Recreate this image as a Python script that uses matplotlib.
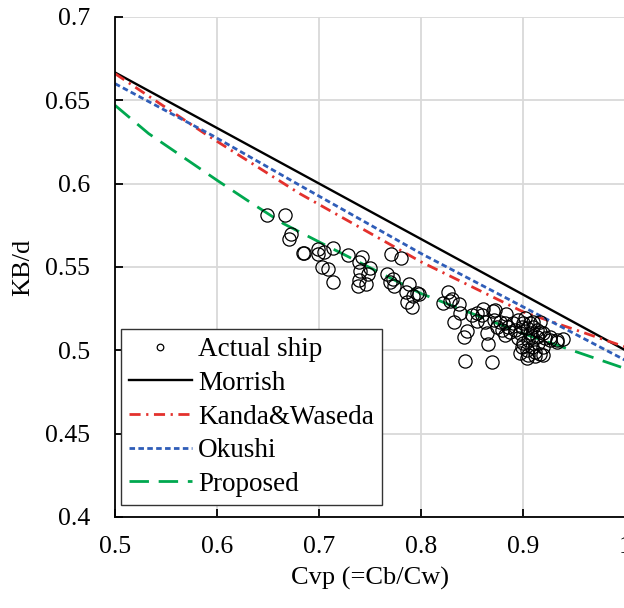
import matplotlib.pyplot as plt

plt.rcParams['font.family'] = ['Liberation Serif', 'DejaVu Serif']

# actual ship data (Cvp, KB/d)
ship_x = [0.649, 0.6665, 0.6727, 0.670, 0.6838, 0.6855, 0.699, 0.7047, 0.699, 0.7138,
          0.7025, 0.709, 0.714, 0.7285, 0.7416, 0.739, 0.7498, 0.740, 0.748, 0.739,
          0.7458, 0.7383, 0.770, 0.7798, 0.7667, 0.772, 0.7693, 0.7733, 0.788, 0.785,
          0.7922, 0.7977, 0.7955, 0.7863, 0.7912, 0.8265, 0.8281, 0.8304, 0.8216, 0.8372,
          0.838, 0.832, 0.8445, 0.8418, 0.8428, 0.8692, 0.8494, 0.8542, 0.8601, 0.8591,
          0.8549, 0.8624, 0.8641, 0.8657, 0.8722, 0.8712, 0.883, 0.926, 0.9326, 0.939,
          0.9195, 0.904, 0.911, 0.897, 0.8705, 0.8745,
          0.882, 0.8852, 0.8869, 0.882, 0.8901, 0.8918, 0.8999, 0.9032, 0.9065, 0.9097,
          0.913, 0.9162, 0.9048, 0.8999, 0.9081, 0.9146, 0.9195, 0.9114, 0.9048, 0.9162,
          0.926, 0.9326, 0.9065, 0.9097, 0.916, 0.8967, 0.895, 0.8983, 0.9032, 0.9195,
          0.9212, 0.913, 0.9016, 0.895, 0.877, 0.8788, 0.9081, 0.8983]
ship_y = [0.581, 0.581, 0.570, 0.567, 0.5582, 0.5585, 0.5576, 0.559, 0.5605, 0.5615,
          0.550, 0.549, 0.5408, 0.5571, 0.5557, 0.553, 0.5495, 0.5477, 0.5456, 0.5422,
          0.540, 0.5385, 0.5577, 0.5552, 0.5456, 0.5427, 0.5411, 0.5385, 0.540, 0.5351,
          0.5327, 0.5337, 0.5345, 0.5291, 0.5261, 0.5351, 0.5297, 0.5306, 0.5285, 0.5277,
          0.5222, 0.5171, 0.5117, 0.5081, 0.4937, 0.4931, 0.5211, 0.5225, 0.5245, 0.5211,
          0.5177, 0.5171, 0.5101, 0.5037, 0.5241, 0.5181, 0.5217, 0.5081, 0.5051, 0.5065,
          0.4971, 0.4951, 0.4967, 0.4985, 0.5237, 0.5141,
          0.5161, 0.5141, 0.5111, 0.5091, 0.5161, 0.5121, 0.5161, 0.5131, 0.5101, 0.5141,
          0.5081, 0.5111, 0.5061, 0.5041, 0.5021, 0.5041, 0.5021, 0.4991, 0.4971, 0.4975,
          0.5061, 0.5061, 0.5161, 0.5171, 0.5171, 0.5101, 0.5071, 0.5021, 0.5001, 0.5101,
          0.5071, 0.5121, 0.5191, 0.5181, 0.5171, 0.5121, 0.5081, 0.5141]

# estimation curves
morrish_x = [0.5, 1.0]
morrish_y = [0.6667, 0.5]
kanda_x = [0.5, 0.588, 0.681, 0.8, 0.9, 1.0]
kanda_y = [0.666, 0.630, 0.594, 0.553, 0.523, 0.502]
okushi_x = [0.5, 0.595, 0.681, 0.8, 0.9, 1.0]
okushi_y = [0.660, 0.629, 0.599, 0.558, 0.526, 0.494]
prop_x = [0.5, 0.533, 0.6, 0.632, 0.665, 0.7, 0.8, 0.9, 1.0]
prop_y = [0.647, 0.630, 0.602, 0.589, 0.576, 0.565, 0.534, 0.510, 0.489]

fig = plt.figure(figsize=(6.24, 6.08), dpi=100)
ax = fig.add_axes([0.1843, 0.1497, 0.818, 0.8224])

ax.plot(ship_x, ship_y, 'o', ms=9.5, mfc='none', mec='black', mew=0.9, label='Actual ship', zorder=3)
ax.plot(morrish_x, morrish_y, color='black', lw=1.7, label='Morrish')
ax.plot(kanda_x, kanda_y, color='#E3312D', lw=2.0, dashes=(4, 2, 0.8, 2), label='Kanda&Waseda')
ax.plot(okushi_x, okushi_y, color='#2F5DB8', lw=2.0, dashes=(2, 1.2), label='Okushi')
ax.plot(prop_x, prop_y, color='#00A84F', lw=2.0, dashes=(7, 3.5), label='Proposed')

ax.set_xlim(0.5, 1.0)
ax.set_ylim(0.4, 0.7)
ax.set_xticks([0.5, 0.6, 0.7, 0.8, 0.9, 1.0])
ax.set_xticklabels(['0.5', '0.6', '0.7', '0.8', '0.9', '1'])
ax.set_yticks([0.4, 0.45, 0.5, 0.55, 0.6, 0.65, 0.7])
ax.set_yticklabels(['0.4', '0.45', '0.5', '0.55', '0.6', '0.65', '0.7'])
ax.grid(True, color='#D9D9D9', lw=1.3)
ax.set_axisbelow(True)
ax.spines['top'].set_visible(False)
ax.spines['right'].set_visible(False)
ax.spines['left'].set_linewidth(1.3)
ax.spines['bottom'].set_linewidth(1.3)
ax.tick_params(axis='both', direction='in', length=6, width=1.3, labelsize=18.5)
ax.tick_params(axis='y', pad=18)
ax.tick_params(axis='x', pad=14)

ax.set_xlabel('Cvp (=Cb/Cw)', fontsize=19, labelpad=6)
ax.set_ylabel('KB/d', fontsize=19, labelpad=8)

leg = ax.legend(loc='lower left', bbox_to_anchor=(0.012, 0.024), borderaxespad=0,
                fontsize=19.5, fancybox=False, edgecolor='#333333', framealpha=1,
                markerscale=0.5, handlelength=2.3, handletextpad=0.25,
                labelspacing=0.32, borderpad=0.3)
leg.get_frame().set_linewidth(1.0)

fig.savefig('out.png', dpi=100)
